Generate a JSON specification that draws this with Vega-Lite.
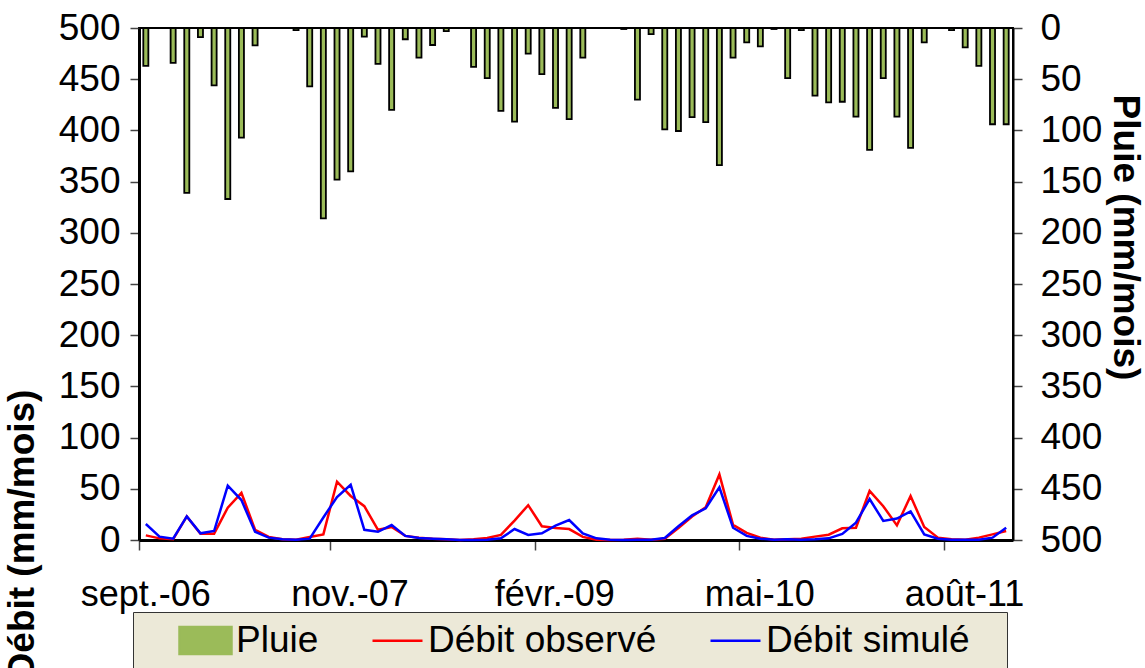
{
  "$schema": "https://vega.github.io/schema/vega-lite/v6.json",
  "width": 874,
  "height": 512,
  "autosize": {"type": "none"},
  "padding": {"left": 139, "top": 28, "right": 132, "bottom": 128},
  "background": "white",
  "config": {
    "view": {"stroke": "black", "strokeWidth": 2},
    "font": "Liberation Sans",
    "axis": {"labelFont": "Liberation Sans", "titleFont": "Liberation Sans", "labelColor": "black", "titleColor": "black", "grid": false},
    "legend": {"labelFont": "Liberation Sans"}
  },
  "data": {"values": [
    {"i":0,"mois":"sept.-06","pluie":37,"obs":4.5,"sim":15.6},
    {"i":1,"mois":"oct.-06","pluie":0,"obs":1.6,"sim":3.3},
    {"i":2,"mois":"nov.-06","pluie":34,"obs":0.7,"sim":1.3},
    {"i":3,"mois":"déc.-06","pluie":161,"obs":23,"sim":23},
    {"i":4,"mois":"janv.-07","pluie":9,"obs":6,"sim":6.5},
    {"i":5,"mois":"févr.-07","pluie":56,"obs":6,"sim":8.8},
    {"i":6,"mois":"mars-07","pluie":167,"obs":31.6,"sim":53},
    {"i":7,"mois":"avr.-07","pluie":107,"obs":46,"sim":39},
    {"i":8,"mois":"mai-07","pluie":17,"obs":10,"sim":8},
    {"i":9,"mois":"juin-07","pluie":0,"obs":3,"sim":2.3},
    {"i":10,"mois":"juil.-07","pluie":0,"obs":0.7,"sim":0.7},
    {"i":11,"mois":"août-07","pluie":2,"obs":0.3,"sim":0.3},
    {"i":12,"mois":"sept.-07","pluie":57,"obs":3,"sim":1.3},
    {"i":13,"mois":"oct.-07","pluie":186,"obs":5.5,"sim":22},
    {"i":14,"mois":"nov.-07","pluie":148,"obs":57,"sim":42},
    {"i":15,"mois":"déc.-07","pluie":140,"obs":43,"sim":54},
    {"i":16,"mois":"janv.-08","pluie":8.5,"obs":33,"sim":10},
    {"i":17,"mois":"févr.-08","pluie":35,"obs":10,"sim":8},
    {"i":18,"mois":"mars-08","pluie":80,"obs":12.7,"sim":14.6},
    {"i":19,"mois":"avr.-08","pluie":11,"obs":4,"sim":4},
    {"i":20,"mois":"mai-08","pluie":29,"obs":2.3,"sim":2},
    {"i":21,"mois":"juin-08","pluie":16.6,"obs":1.3,"sim":1.3},
    {"i":22,"mois":"juil.-08","pluie":3,"obs":0.7,"sim":0.7},
    {"i":23,"mois":"août-08","pluie":0,"obs":0,"sim":0},
    {"i":24,"mois":"sept.-08","pluie":38,"obs":0.7,"sim":0},
    {"i":25,"mois":"oct.-08","pluie":49,"obs":2,"sim":0.3},
    {"i":26,"mois":"nov.-08","pluie":81,"obs":5,"sim":1.6},
    {"i":27,"mois":"déc.-08","pluie":91.5,"obs":19,"sim":10.7},
    {"i":28,"mois":"janv.-09","pluie":25,"obs":34,"sim":5},
    {"i":29,"mois":"févr.-09","pluie":45,"obs":13.4,"sim":6.5},
    {"i":30,"mois":"mars-09","pluie":78,"obs":11.7,"sim":14},
    {"i":31,"mois":"avr.-09","pluie":89,"obs":10.7,"sim":19.5},
    {"i":32,"mois":"mai-09","pluie":29,"obs":3,"sim":6.5},
    {"i":33,"mois":"juin-09","pluie":0,"obs":0.3,"sim":1.6},
    {"i":34,"mois":"juil.-09","pluie":0,"obs":0,"sim":0.3},
    {"i":35,"mois":"août-09","pluie":1,"obs":0.3,"sim":0},
    {"i":36,"mois":"sept.-09","pluie":70,"obs":1.3,"sim":0.3},
    {"i":37,"mois":"oct.-09","pluie":6,"obs":0.3,"sim":0.3},
    {"i":38,"mois":"nov.-09","pluie":99,"obs":1.3,"sim":2},
    {"i":39,"mois":"déc.-09","pluie":100.6,"obs":11.7,"sim":13.4},
    {"i":40,"mois":"janv.-10","pluie":87,"obs":23,"sim":24},
    {"i":41,"mois":"févr.-10","pluie":92,"obs":32,"sim":31},
    {"i":42,"mois":"mars-10","pluie":134,"obs":64,"sim":51.5},
    {"i":43,"mois":"avr.-10","pluie":29,"obs":14.7,"sim":12},
    {"i":44,"mois":"mai-10","pluie":14,"obs":7,"sim":4},
    {"i":45,"mois":"juin-10","pluie":18,"obs":2.3,"sim":1.3},
    {"i":46,"mois":"juil.-10","pluie":1,"obs":0.3,"sim":0.3},
    {"i":47,"mois":"août-10","pluie":49,"obs":0.7,"sim":0.7},
    {"i":48,"mois":"sept.-10","pluie":2,"obs":1.3,"sim":0.3},
    {"i":49,"mois":"oct.-10","pluie":66,"obs":3.3,"sim":0.7},
    {"i":50,"mois":"nov.-10","pluie":72.6,"obs":5.2,"sim":1.6},
    {"i":51,"mois":"déc.-10","pluie":72,"obs":11.4,"sim":6},
    {"i":52,"mois":"janv.-11","pluie":86.6,"obs":12,"sim":17},
    {"i":53,"mois":"févr.-11","pluie":119,"obs":48,"sim":40},
    {"i":54,"mois":"mars-11","pluie":49,"obs":33,"sim":18.6},
    {"i":55,"mois":"avr.-11","pluie":86.6,"obs":14.3,"sim":21},
    {"i":56,"mois":"mai-11","pluie":117,"obs":43,"sim":28},
    {"i":57,"mois":"juin-11","pluie":14,"obs":12.7,"sim":5.5},
    {"i":58,"mois":"juil.-11","pluie":0,"obs":2.3,"sim":1.3},
    {"i":59,"mois":"août-11","pluie":2,"obs":0.7,"sim":0.3},
    {"i":60,"mois":"sept.-11","pluie":19,"obs":0.3,"sim":0.3},
    {"i":61,"mois":"oct.-11","pluie":37,"obs":2.3,"sim":0.3},
    {"i":62,"mois":"nov.-11","pluie":94,"obs":5.5,"sim":2.3},
    {"i":63,"mois":"déc.-11","pluie":94,"obs":8.8,"sim":12}
  ]},
  "encoding": {
    "x": {
      "field": "mois", "type": "ordinal", "sort": null,
      "scale": {"paddingInner": 0, "paddingOuter": 0},
      "axis": {
        "values": ["sept.-06","nov.-07","févr.-09","mai-10","août-11"],
        "bandPosition": 0,
        "title": null,
        "labelAngle": 0,
        "tickSize": 10, "tickColor": "#444", "tickWidth": 1.5,
        "domainColor": "black", "domainWidth": 3,
        "labelFontSize": 36, "labelPadding": 27, "labelBaseline": "top",
        "labelOverlap": false, "labelBound": false,
        "labelOffset": {"expr": "datum.value === 'sept.-06' ? 0 : 13"}
      }
    }
  },
  "layer": [
    {
      "mark": {"type": "bar", "width": {"band": 0.37}, "stroke": "black", "strokeWidth": 1.8},
      "encoding": {
        "y": {
          "field": "pluie", "type": "quantitative",
          "scale": {"domain": [0, 500], "reverse": true, "nice": false, "zero": true},
          "axis": {
            "orient": "right",
            "values": [0,50,100,150,200,250,300,350,400,450,500],
            "title": "Pluie (mm/mois)",
            "titleFontSize": 37, "titleFontWeight": "bold",
            "titleAngle": 90, "titleX": 111, "titleY": 209,
            "titleAlign": "center", "titleBaseline": "middle",
            "tickSize": 9, "tickColor": "#444", "tickWidth": 1.5,
            "domainColor": "black", "domainWidth": 2,
            "labelFontSize": 37, "labelPadding": 18,
            "labelFlush": false, "labelOverlap": false, "labelBound": false
          }
        },
        "color": {
          "datum": "Pluie", "type": "nominal",
          "scale": {"domain": ["Pluie", "obs", "sim"], "range": ["#9BBB59", "#FF0000", "#0000FF"]},
          "legend": {
            "orient": "none", "legendX": -6, "legendY": 584,
            "direction": "horizontal", "title": null,
            "fillColor": "#ECE9D8", "strokeColor": "#333", "padding": 10,
            "labelFontSize": 37, "labelColor": "black",
            "symbolSize": 100, "symbolOffset": 44, "labelOffset": 12, "columnPadding": 16,
            "labelLimit": 0,
            "labelExpr": "datum.value === 'obs' ? 'Débit observé' : datum.value === 'sim' ? 'Débit simulé\u2800' : datum.label",
            "encode": {"symbols": {"update": {
              "shape": {"signal": "datum.value === 'Pluie' ? 'M-5.2,-2.7H5.2V2.7H-5.2Z' : 'M-5,0H5'"},
              "fill": {"signal": "datum.value === 'Pluie' ? '#9BBB59' : 'transparent'"},
              "stroke": {"signal": "datum.value === 'Pluie' ? 'black' : datum.value === 'obs' ? '#FF0000' : '#0000FF'"},
              "strokeWidth": {"value": 2.5},
              "opacity": {"value": 1}
            }}}
          }
        }
      }
    },
    {
      "layer": [
        {
          "mark": {"type": "line", "strokeWidth": 2.5},
          "encoding": {
            "y": {
              "field": "obs", "type": "quantitative",
              "scale": {"domain": [0, 500], "nice": false},
              "axis": {
                "orient": "left",
                "values": [0,50,100,150,200,250,300,350,400,450,500],
                "title": "Débit (mm/mois)",
                "titleFontSize": 37, "titleFontWeight": "bold",
                "titleAngle": -90, "titleX": -117, "titleY": 506,
                "titleAlign": "center", "titleBaseline": "middle",
                "tickSize": 9, "tickColor": "#444", "tickWidth": 1.5,
                "domainColor": "black", "domainWidth": 3,
                "labelFontSize": 37, "labelPadding": 10,
                "labelFlush": false, "labelOverlap": false, "labelBound": false
              }
            },
            "order": {"field": "i", "type": "quantitative"},
            "color": {
              "datum": "obs", "type": "nominal",
              "scale": {"domain": ["Pluie", "obs", "sim"], "range": ["#9BBB59", "#FF0000", "#0000FF"]},
              "legend": {
                "orient": "none", "legendX": -6, "legendY": 584,
                "direction": "horizontal", "title": null,
                "fillColor": "#ECE9D8", "strokeColor": "#333", "padding": 10,
                "labelFontSize": 37, "labelColor": "black",
                "symbolSize": 100, "symbolOffset": 44, "labelOffset": 12, "columnPadding": 16,
                "labelLimit": 0,
                "labelExpr": "datum.value === 'obs' ? 'Débit observé' : datum.value === 'sim' ? 'Débit simulé\u2800' : datum.label",
                "encode": {"symbols": {"update": {
                  "shape": {"signal": "datum.value === 'Pluie' ? 'M-5.2,-2.7H5.2V2.7H-5.2Z' : 'M-5,0H5'"},
                  "fill": {"signal": "datum.value === 'Pluie' ? '#9BBB59' : 'transparent'"},
                  "stroke": {"signal": "datum.value === 'Pluie' ? 'black' : datum.value === 'obs' ? '#FF0000' : '#0000FF'"},
                  "strokeWidth": {"value": 2.5},
                  "opacity": {"value": 1}
                }}}
              }
            }
          }
        },
        {
          "mark": {"type": "line", "strokeWidth": 2.5},
          "encoding": {
            "y": {
              "field": "sim", "type": "quantitative",
              "scale": {"domain": [0, 500], "nice": false},
              "axis": {
                "orient": "left",
                "values": [0,50,100,150,200,250,300,350,400,450,500],
                "title": "Débit (mm/mois)",
                "titleFontSize": 37, "titleFontWeight": "bold",
                "titleAngle": -90, "titleX": -117, "titleY": 506,
                "titleAlign": "center", "titleBaseline": "middle",
                "tickSize": 9, "tickColor": "#444", "tickWidth": 1.5,
                "domainColor": "black", "domainWidth": 3,
                "labelFontSize": 37, "labelPadding": 10,
                "labelFlush": false, "labelOverlap": false, "labelBound": false
              }
            },
            "order": {"field": "i", "type": "quantitative"},
            "color": {
              "datum": "sim", "type": "nominal",
              "scale": {"domain": ["Pluie", "obs", "sim"], "range": ["#9BBB59", "#FF0000", "#0000FF"]},
              "legend": {
                "orient": "none", "legendX": -6, "legendY": 584,
                "direction": "horizontal", "title": null,
                "fillColor": "#ECE9D8", "strokeColor": "#333", "padding": 10,
                "labelFontSize": 37, "labelColor": "black",
                "symbolSize": 100, "symbolOffset": 44, "labelOffset": 12, "columnPadding": 16,
                "labelLimit": 0,
                "labelExpr": "datum.value === 'obs' ? 'Débit observé' : datum.value === 'sim' ? 'Débit simulé\u2800' : datum.label",
                "encode": {"symbols": {"update": {
                  "shape": {"signal": "datum.value === 'Pluie' ? 'M-5.2,-2.7H5.2V2.7H-5.2Z' : 'M-5,0H5'"},
                  "fill": {"signal": "datum.value === 'Pluie' ? '#9BBB59' : 'transparent'"},
                  "stroke": {"signal": "datum.value === 'Pluie' ? 'black' : datum.value === 'obs' ? '#FF0000' : '#0000FF'"},
                  "strokeWidth": {"value": 2.5},
                  "opacity": {"value": 1}
                }}}
              }
            }
          }
        }
      ]
    }
  ],
  "resolve": {"scale": {"y": "independent"}}
}
